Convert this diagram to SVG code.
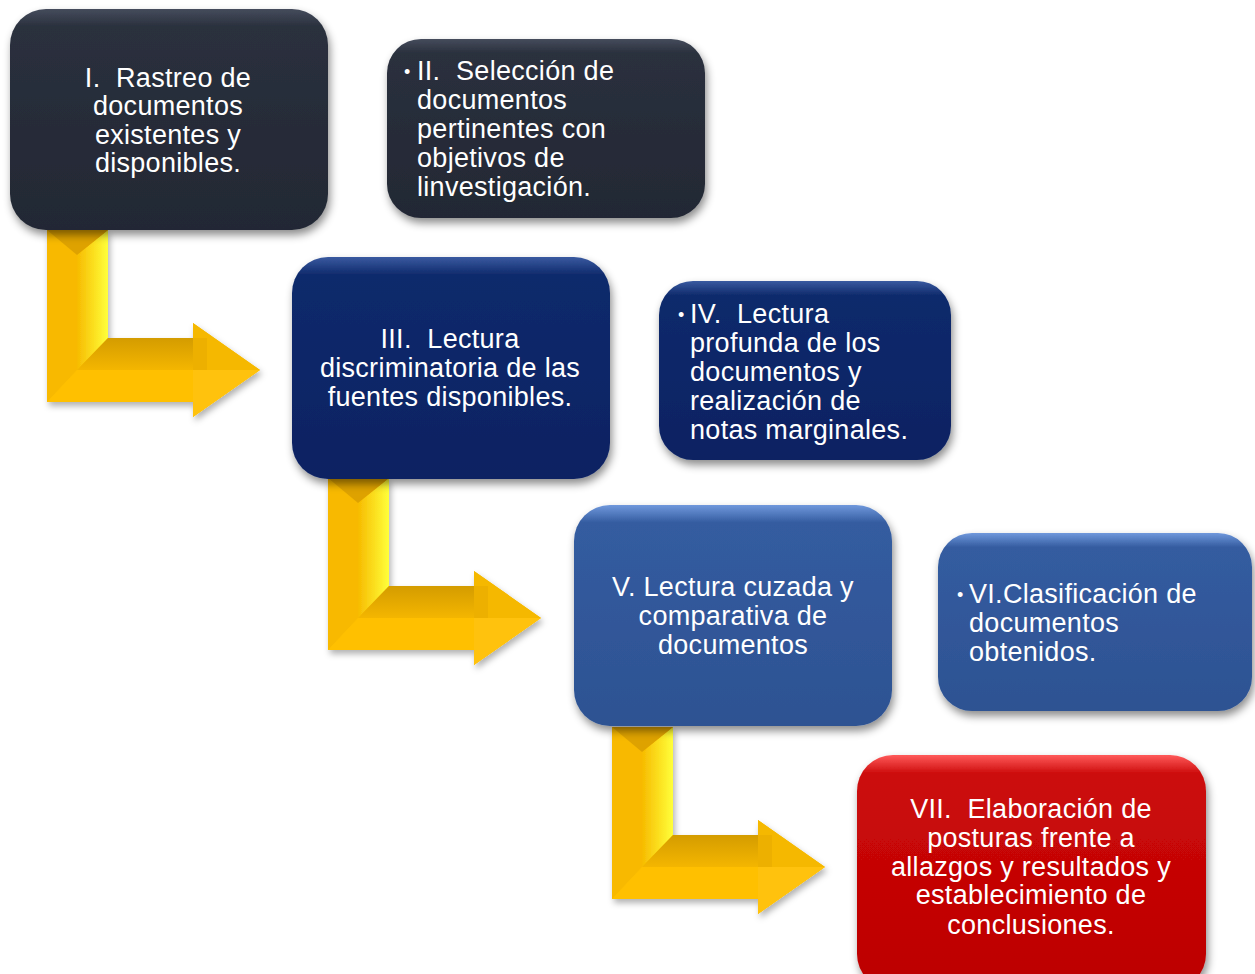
<svg xmlns="http://www.w3.org/2000/svg" width="1255" height="974" viewBox="0 0 1255 974">
<defs>
<style>
.t{font-family:"Liberation Sans",Arial,sans-serif;font-size:27px;fill:#ffffff;letter-spacing:0.3px;white-space:pre}
.c{text-anchor:middle}
.b{font-family:"Liberation Sans",Arial,sans-serif;font-size:18px;fill:#ffffff}
</style>
<filter id="sh" x="-10%" y="-10%" width="125%" height="130%">
<feDropShadow dx="2" dy="5" stdDeviation="4" flood-color="#000" flood-opacity="0.45"/>
</filter>
<filter id="ash" x="-10%" y="-10%" width="130%" height="130%">
<feDropShadow dx="2" dy="4" stdDeviation="3" flood-color="#000" flood-opacity="0.3"/>
</filter>
<linearGradient id="gDark" x1="0" y1="0" x2="0" y2="1">
<stop offset="0" stop-color="#454c5c"/><stop offset="0.08" stop-color="#2a303d"/><stop offset="1" stop-color="#232834"/>
</linearGradient>
<linearGradient id="gNavy" x1="0" y1="0" x2="0" y2="1">
<stop offset="0" stop-color="#3a5aa0"/><stop offset="0.08" stop-color="#0f2a6c"/><stop offset="1" stop-color="#0a2262"/>
</linearGradient>
<linearGradient id="gBlue" x1="0" y1="0" x2="0" y2="1">
<stop offset="0" stop-color="#7098dc"/><stop offset="0.08" stop-color="#345ca0"/><stop offset="1" stop-color="#2d5292"/>
</linearGradient>
<linearGradient id="gRed" x1="0" y1="0" x2="0" y2="1">
<stop offset="0" stop-color="#ff5a5a"/><stop offset="0.08" stop-color="#cc0a0a"/><stop offset="1" stop-color="#bc0000"/>
</linearGradient>
<linearGradient id="gRight" x1="0" y1="0" x2="1" y2="0">
<stop offset="0" stop-color="#f7bb00"/><stop offset="1" stop-color="#ffff3a"/>
</linearGradient>
<linearGradient id="gTopH" x1="0" y1="0" x2="0" y2="1">
<stop offset="0" stop-color="#d49c00"/><stop offset="1" stop-color="#f4b600"/>
</linearGradient>
<symbol id="arrow" viewBox="0 0 215 190" width="215" height="190" overflow="visible">
<polygon points="0,0 61,0 61,108 146,108 146,93 213,140 146,187 146,172 0,172" fill="#fcbf00"/>
<polygon points="0,0 30,25 30,140 0,172" fill="#f8b900"/>
<polygon points="30,25 61,0 61,108 30,140" fill="url(#gRight)"/>
<polygon points="0,0 61,0 30,25" fill="#dea200"/>
<polygon points="61,108 146,108 146,140 30,140" fill="url(#gTopH)"/>
<polygon points="30,140 146,140 146,172 0,172" fill="#ffc000"/>
<polygon points="146,93 213,140 146,140" fill="#f5b800"/>
<polygon points="146,140 213,140 146,187" fill="#ffc20a"/>
<polygon points="146,108 160,108 160,140 146,140" fill="#e6a800" opacity="0.5"/>
</symbol>
</defs>
<rect width="1255" height="974" fill="#ffffff"/>

<g id="connectors">
<use href="#arrow" x="47" y="230" filter="url(#ash)"/>
<use href="#arrow" x="328" y="478" filter="url(#ash)"/>
<use href="#arrow" x="612" y="727" filter="url(#ash)"/>
</g>

<g id="node1">
<rect x="10" y="9" width="318" height="221" rx="36" fill="url(#gDark)" filter="url(#sh)"/>
<text class="t c" x="168" y="87">I.  Rastreo de</text>
<text class="t c" x="168" y="115">documentos</text>
<text class="t c" x="168" y="144">existentes y</text>
<text class="t c" x="168" y="172">disponibles.</text>
</g>

<g id="node2">
<rect x="387" y="39" width="318" height="179" rx="34" fill="url(#gDark)" filter="url(#sh)"/>
<text class="b" x="404" y="78">•</text>
<text class="t" x="417" y="80">II.  Selección de</text>
<text class="t" x="417" y="109">documentos</text>
<text class="t" x="417" y="138">pertinentes con</text>
<text class="t" x="417" y="167">objetivos de</text>
<text class="t" x="417" y="196">linvestigación.</text>
</g>

<g id="node3">
<rect x="292" y="257" width="318" height="222" rx="36" fill="url(#gNavy)" filter="url(#sh)"/>
<text class="t c" x="450" y="348">III.  Lectura</text>
<text class="t c" x="450" y="377">discriminatoria de las</text>
<text class="t c" x="450" y="406">fuentes disponibles.</text>
</g>

<g id="node4">
<rect x="659" y="281" width="292" height="179" rx="34" fill="url(#gNavy)" filter="url(#sh)"/>
<text class="b" x="678" y="321">•</text>
<text class="t" x="690" y="323">IV.  Lectura</text>
<text class="t" x="690" y="352">profunda de los</text>
<text class="t" x="690" y="381">documentos y</text>
<text class="t" x="690" y="410">realización de</text>
<text class="t" x="690" y="439">notas marginales.</text>
</g>

<g id="node5">
<rect x="574" y="505" width="318" height="221" rx="36" fill="url(#gBlue)" filter="url(#sh)"/>
<text class="t c" x="733" y="596">V. Lectura cuzada y</text>
<text class="t c" x="733" y="625">comparativa de</text>
<text class="t c" x="733" y="654">documentos</text>
</g>

<g id="node6">
<rect x="938" y="533" width="314" height="178" rx="34" fill="url(#gBlue)" filter="url(#sh)"/>
<text class="b" x="957" y="601">•</text>
<text class="t" x="969" y="603">VI.Clasificación de</text>
<text class="t" x="969" y="632">documentos</text>
<text class="t" x="969" y="661">obtenidos.</text>
</g>

<g id="node7">
<rect x="857" y="755" width="349" height="235" rx="36" fill="url(#gRed)" filter="url(#sh)"/>
<text class="t c" x="1031" y="818">VII.  Elaboración de</text>
<text class="t c" x="1031" y="847">posturas frente a</text>
<text class="t c" x="1031" y="876">allazgos y resultados y</text>
<text class="t c" x="1031" y="904">establecimiento de</text>
<text class="t c" x="1031" y="934">conclusiones.</text>
</g>
</svg>
